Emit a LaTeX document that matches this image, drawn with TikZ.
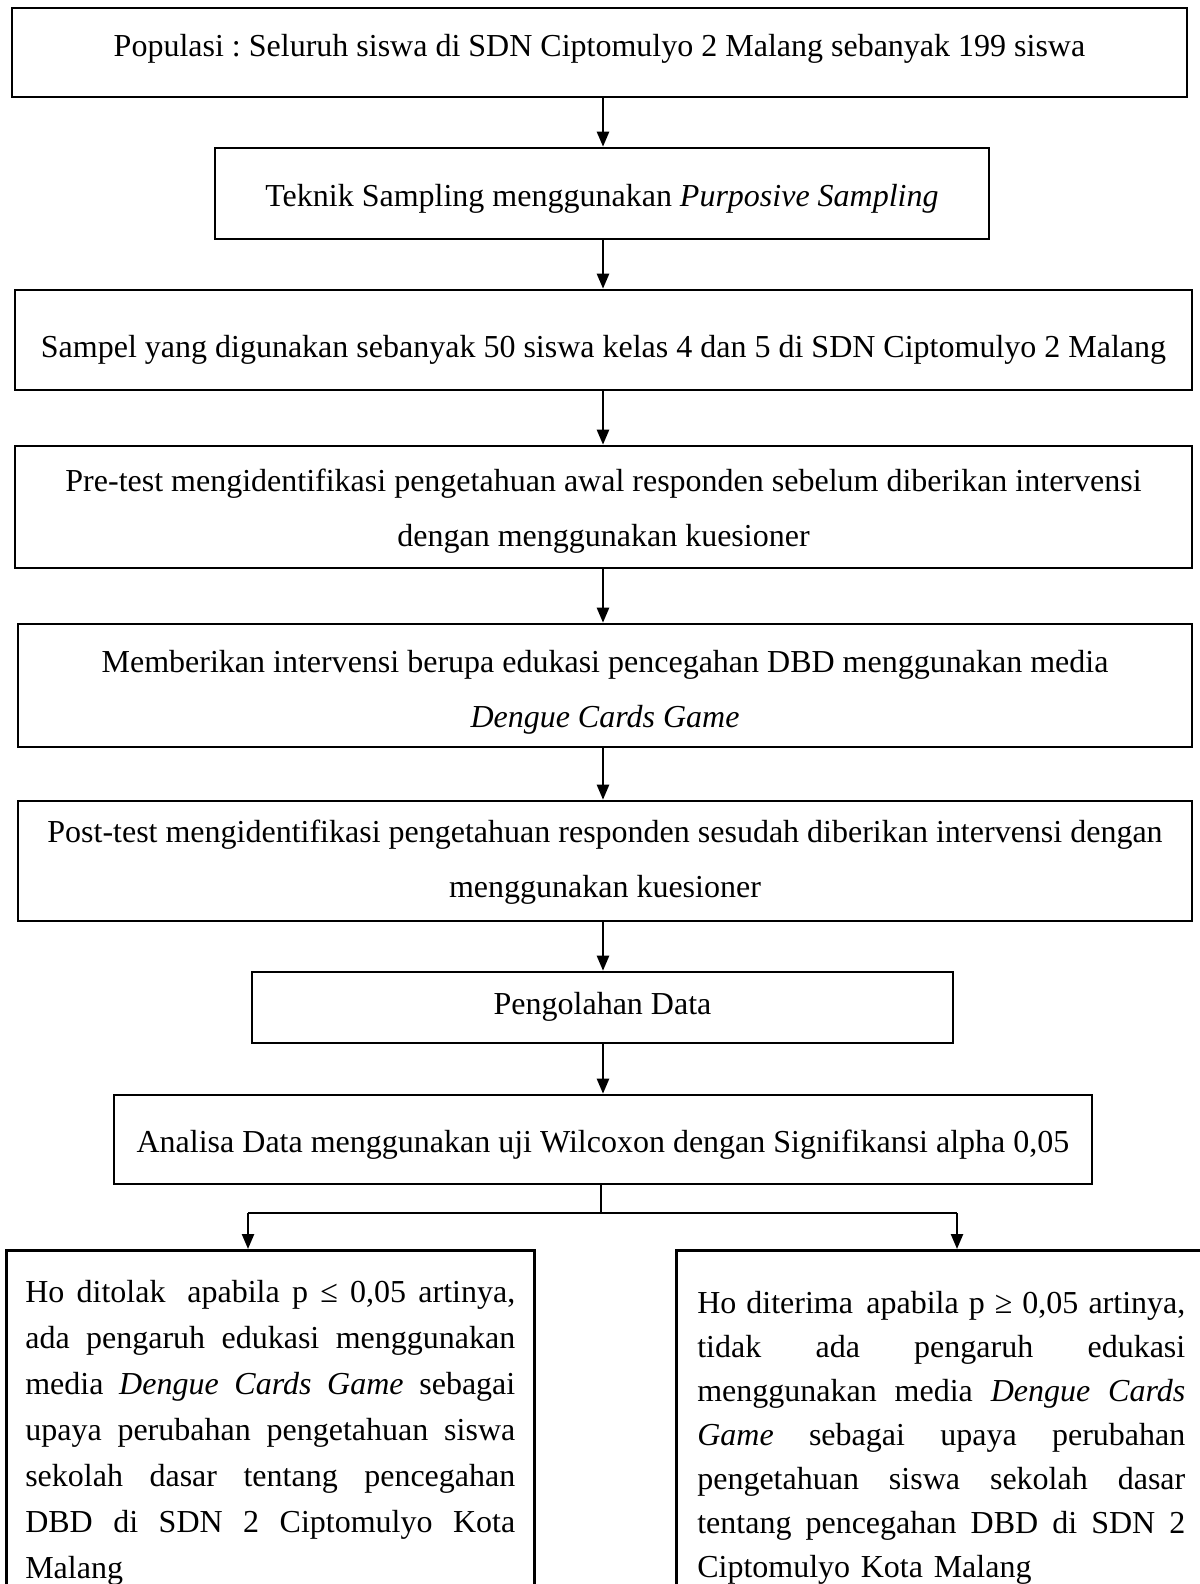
\documentclass[tikz,border=0pt]{standalone}
\usepackage{fontspec}
\setmainfont{Liberation Serif}
\usetikzlibrary{arrows.meta}
\newcommand\jline[2]{\leavevmode\hbox to #1{\spaceskip=0.25em plus 1fil minus 0.06em\xspaceskip=\spaceskip #2}}
\begin{document}
\begin{tikzpicture}[x=1pt,y=-1pt,
  box/.style={draw, line width=2.6pt, inner sep=0pt, align=center, font=\fontsize{32}{55}\selectfont\frenchspacing},
  twobox/.style={box, align=flush center, text width=1160pt, text depth=62pt},
  lowbox/.style={draw, line width=2.6pt, anchor=north west, inner ysep=0pt, align=left, font=\fontsize{32}{46}\selectfont\frenchspacing},
  conn/.style={line width=2.4pt, -{Triangle[length=15pt,width=12pt]}},
  link/.style={line width=2.6pt},
]
\useasboundingbox (0,0) rectangle (1199,1584);
\coordinate (ax) at (603,0);

\node[box, minimum width=1175pt, minimum height=89pt, text height=25pt, text depth=17pt] (b1) at (599.5,52.5)
  {Populasi : Seluruh siswa di SDN Ciptomulyo 2 Malang sebanyak 199 siswa};
\node[box, minimum width=774pt, minimum height=91pt, text height=32pt, text depth=7pt] (b2) at (602,193.5)
  {Teknik Sampling menggunakan \textit{Purposive Sampling}};
\node[box, minimum width=1177pt, minimum height=100pt, text height=42pt, text depth=7pt] (b3) at (603.5,340)
  {Sampel yang digunakan sebanyak 50 siswa kelas 4 dan 5 di SDN Ciptomulyo 2 Malang};
\node[twobox, minimum width=1177pt, minimum height=122pt, text height=30pt] (b4) at (603.5,507)
  {Pre-test mengidentifikasi pengetahuan awal responden sebelum diberikan intervensi\\dengan menggunakan kuesioner};
\node[twobox, minimum width=1174pt, minimum height=123pt, text height=36pt] (b5) at (605,685.5)
  {Memberikan intervensi berupa edukasi pencegahan DBD menggunakan media\\\textit{Dengue Cards Game}};
\node[twobox, minimum width=1174pt, minimum height=120pt, text height=25pt] (b6) at (605,861)
  {Post-test mengidentifikasi pengetahuan responden sesudah diberikan intervensi dengan\\menggunakan kuesioner};
\node[box, minimum width=701pt, minimum height=71pt, text height=25pt, text depth=12pt] (b7) at (602.5,1007.5)
  {Pengolahan Data};
\node[box, minimum width=978pt, minimum height=89pt, text height=33pt, text depth=7pt] (b8) at (603,1139.5)
  {Analisa Data menggunakan uji Wilcoxon dengan Signifikansi alpha 0,05};

\node[lowbox, inner xsep=19pt, text width=490pt, text height=52pt, text depth=340pt] (lo) at (5,1249)
  {\jline{490pt}{Ho ditolak\hspace{0.3em} apabila p ≤ 0,05 artinya,}\\
   \jline{490pt}{ada pengaruh edukasi menggunakan}\\
   \jline{490pt}{media \textit{Dengue Cards Game} sebagai}\\
   \jline{490pt}{upaya perubahan pengetahuan siswa}\\
   \jline{490pt}{sekolah dasar tentang pencegahan}\\
   \jline{490pt}{DBD di SDN 2 Ciptomulyo Kota}\\
   Malang};
\node[lowbox, inner xsep=21pt, text width=488pt, text height=63pt, text depth=340pt, font=\fontsize{32}{44}\selectfont\frenchspacing] (ro) at (675,1249)
  {\jline{488pt}{Ho diterima\hspace{0.1em} apabila p ≥ 0,05 artinya,}\\
   \jline{488pt}{tidak ada pengaruh edukasi}\\
   \jline{488pt}{menggunakan media \textit{Dengue Cards}}\\
   \jline{488pt}{\textit{Game} sebagai upaya perubahan}\\
   \jline{488pt}{pengetahuan siswa sekolah dasar}\\
   \jline{488pt}{tentang pencegahan DBD di SDN 2}\\
   Ciptomulyo Kota Malang};

\draw[conn] (b1.south -| ax) -- (b2.north -| ax);
\draw[conn] (b2.south -| ax) -- (b3.north -| ax);
\draw[conn] (b3.south -| ax) -- (b4.north -| ax);
\draw[conn] (b4.south -| ax) -- (b5.north -| ax);
\draw[conn] (b5.south -| ax) -- (b6.north -| ax);
\draw[conn] (b6.south -| ax) -- (b7.north -| ax);
\draw[conn] (b7.south -| ax) -- (b8.north -| ax);

\coordinate (jm) at (601,1213);
\coordinate (jl) at (248,1213);
\coordinate (jr) at (957,1213);
\draw[link] (b8.south -| jm) -- (jm);
\draw[link] (jl) -- (jr);
\draw[conn] (jl) -- (jl |- lo.north);
\draw[conn] (jr) -- (jr |- ro.north);
\end{tikzpicture}
\end{document}
